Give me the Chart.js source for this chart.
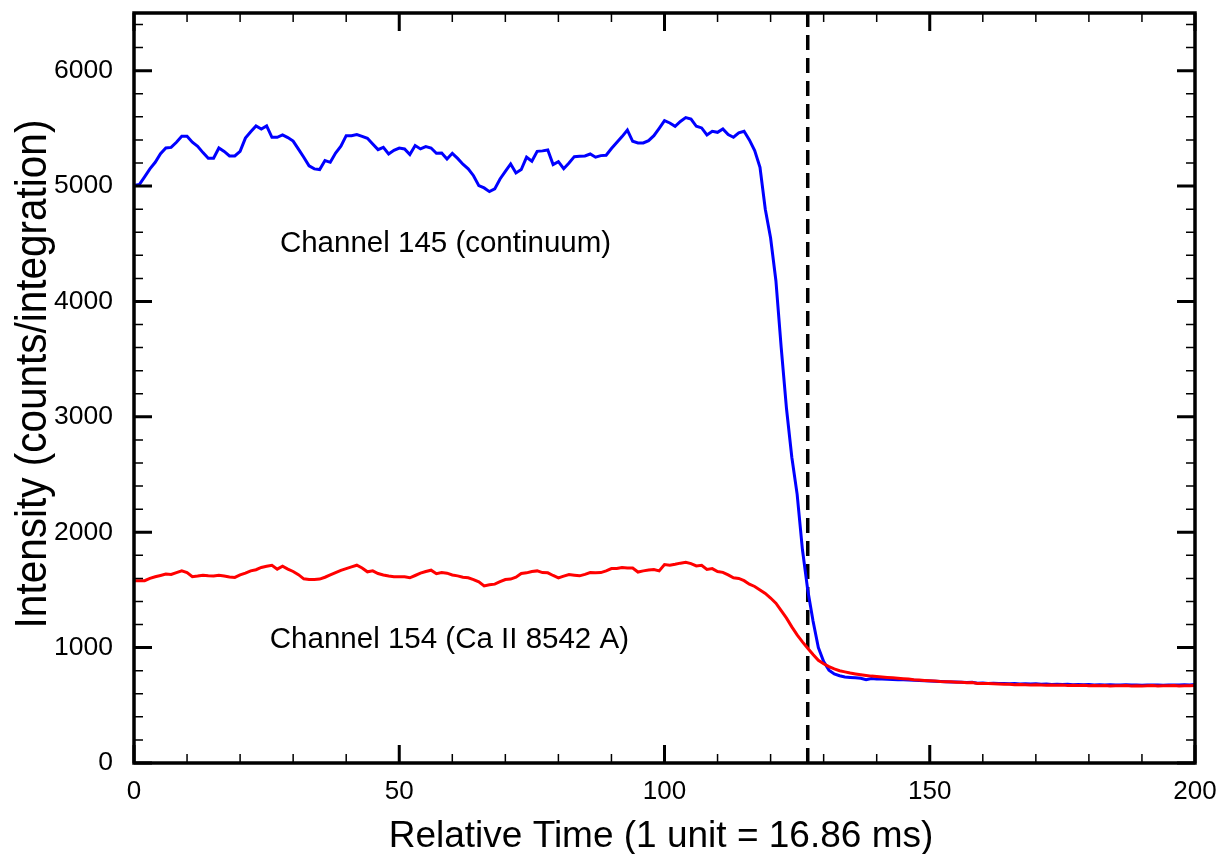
<!DOCTYPE html>
<html>
<head>
<meta charset="utf-8">
<script src="https://cdn.jsdelivr.net/npm/chart.js@4.4.1/dist/chart.umd.min.js"></script>
<style>
  html, body { margin: 0; padding: 0; background: #fff; }
  #wrap { width: 1220px; height: 854px; }
</style>
</head>
<body>
<div id="wrap"><canvas id="chart"></canvas></div>
<script>
// Channel 145 (continuum), one value per time unit, t = 0 .. 200
const continuum = [
  5004, 5013, 5080, 5149, 5206, 5280, 5330, 5335, 5380, 5431,
  5431, 5380, 5345, 5290, 5241, 5241, 5330, 5300, 5261, 5261,
  5301, 5416, 5470, 5521, 5495, 5521, 5423, 5423, 5443, 5420,
  5390, 5320, 5250, 5175, 5149, 5143, 5221, 5206, 5286, 5345,
  5437, 5437, 5446, 5431, 5414, 5364, 5316, 5336, 5278, 5310,
  5330, 5322, 5273, 5351, 5322, 5342, 5330, 5284, 5286, 5235,
  5284, 5240, 5190, 5150, 5090, 5004, 4984, 4952, 4976, 5062,
  5128, 5192, 5114, 5143, 5250, 5215, 5301, 5305, 5313, 5186,
  5212, 5151, 5200, 5255, 5258, 5261, 5278, 5250, 5264, 5267,
  5325, 5377, 5429, 5486, 5388, 5374, 5374, 5394, 5437, 5501,
  5567, 5547, 5518, 5560, 5593, 5581, 5518, 5504, 5443, 5475,
  5466, 5495, 5446, 5423, 5461, 5475, 5400, 5307, 5163, 4800,
  4550, 4180, 3600, 3070, 2650, 2330, 1850, 1500, 1230, 1000,
  880, 805, 772, 756, 746, 742, 738, 735, 722, 733,
  729, 727, 726, 724, 722, 721, 719, 717, 716, 713,
  710, 708, 707, 705, 702, 703, 700, 698, 699, 692,
  693, 690, 691, 688, 690, 686, 688, 685, 686, 684,
  686, 682, 684, 681, 683, 680, 682, 679, 681, 678,
  680, 677, 679, 676, 678, 677, 675, 678, 676, 677,
  674, 676, 675, 677, 674, 676, 675, 677, 678, 676,
  680
];

// Channel 154 (Ca II 8542 A)
const caLine = [
  1580, 1580, 1580, 1600, 1614, 1625, 1637, 1634, 1650, 1665,
  1650, 1614, 1620, 1628, 1622, 1620, 1626, 1620, 1612, 1608,
  1630, 1645, 1665, 1675, 1695, 1705, 1714, 1680, 1705, 1680,
  1660, 1632, 1596, 1591, 1591, 1594, 1610, 1630, 1650, 1670,
  1685, 1700, 1714, 1690, 1657, 1665, 1642, 1630, 1620, 1614,
  1614, 1614, 1605, 1625, 1645, 1660, 1671, 1640, 1650, 1645,
  1630, 1622, 1610, 1605, 1590, 1570, 1535, 1545, 1550, 1571,
  1590, 1594, 1610, 1642, 1648, 1660, 1665, 1650, 1648, 1625,
  1605, 1620, 1634, 1628, 1622, 1635, 1650, 1648, 1650, 1665,
  1685, 1685, 1694, 1691, 1690, 1655, 1665, 1672, 1677, 1665,
  1720, 1714, 1722, 1732, 1740, 1728, 1708, 1714, 1677, 1685,
  1660, 1652, 1630, 1605, 1600, 1580, 1550, 1530, 1500, 1470,
  1430, 1385, 1320, 1255, 1180, 1110, 1050, 995, 940, 890,
  860, 835, 815, 800, 790, 780, 772, 765, 759, 753,
  749, 745, 742, 739, 735, 731, 727, 722, 719, 715,
  712, 710, 706, 704, 705, 700, 699, 696, 697, 690,
  689, 688, 686, 684, 683, 682, 679, 680, 678, 676,
  679, 676, 674, 676, 673, 675, 672, 674, 671, 673,
  670, 672, 670, 671, 668, 670, 669, 671, 668, 670,
  668, 669, 671, 668, 670, 669, 671, 668, 670, 669,
  672
];

const markerTime = 127;          // dashed vertical line
const xTickValues = [0, 50, 100, 150, 200];
const yTickValues = [0, 1000, 2000, 3000, 4000, 5000, 6000];
const xMinorStep = 10;
const yMinorStep = 200;
const xMax = 200;
const yMax = 6500;

const annotations = [
  { text: 'Channel 145 (continuum)', x: 27.5, y: 4431 },
  { text: 'Channel 154 (Ca II 8542 A)', x: 25.6, y: 997 }
];

const FONT = '"Liberation Sans", Arial, Helvetica, sans-serif';

// frame, inward ticks on all four sides, titles and text labels
const framePlugin = {
  id: 'frame',
  afterDatasetsDraw(chart) {
    const { ctx, chartArea: a, scales: { x, y } } = chart;
    ctx.save();
    ctx.strokeStyle = '#000';
    ctx.lineCap = 'butt';

    // minor ticks
    ctx.lineWidth = 1.5;
    ctx.beginPath();
    for (let v = 0; v <= xMax; v += xMinorStep) {
      if (xTickValues.includes(v)) continue;
      const px = x.getPixelForValue(v);
      ctx.moveTo(px, a.bottom); ctx.lineTo(px, a.bottom - 9);
      ctx.moveTo(px, a.top); ctx.lineTo(px, a.top + 9);
    }
    for (let v = 0; v <= yMax; v += yMinorStep) {
      if (yTickValues.includes(v)) continue;
      const py = y.getPixelForValue(v);
      ctx.moveTo(a.left, py); ctx.lineTo(a.left + 9, py);
      ctx.moveTo(a.right, py); ctx.lineTo(a.right - 9, py);
    }
    ctx.stroke();

    // major ticks
    ctx.lineWidth = 3;
    ctx.beginPath();
    xTickValues.forEach(v => {
      const px = x.getPixelForValue(v);
      ctx.moveTo(px, a.bottom); ctx.lineTo(px, a.bottom - 18);
      ctx.moveTo(px, a.top); ctx.lineTo(px, a.top + 18);
    });
    yTickValues.forEach(v => {
      const py = y.getPixelForValue(v);
      ctx.moveTo(a.left, py); ctx.lineTo(a.left + 18, py);
      ctx.moveTo(a.right, py); ctx.lineTo(a.right - 18, py);
    });
    ctx.stroke();

    // frame
    ctx.lineWidth = 3.5;
    ctx.strokeRect(a.left, a.top, a.right - a.left, a.bottom - a.top);
    ctx.restore();
  },
  afterDraw(chart) {
    const { ctx, scales: { x, y } } = chart;
    ctx.save();
    ctx.fillStyle = '#000';

    // curve labels
    ctx.font = '29.5px ' + FONT;
    ctx.textAlign = 'left';
    ctx.textBaseline = 'alphabetic';
    annotations.forEach(n => {
      ctx.fillText(n.text, x.getPixelForValue(n.x), y.getPixelForValue(n.y));
    });

    // x axis title
    ctx.font = '37px ' + FONT;
    ctx.textAlign = 'center';
    ctx.fillText('Relative Time (1 unit = 16.86 ms)', 661, 847);

    // y axis title (slightly condensed, as in the original)
    ctx.translate(46, 374);
    ctx.rotate(-Math.PI / 2);
    ctx.scale(0.9, 1);
    ctx.font = '45px ' + FONT;
    ctx.fillText('Intensity (counts/integration)', 0, 0);
    ctx.restore();
  }
};

// keep the plot box where it is, whatever the label extents
function noPadding(s) {
  s.paddingTop = 0; s.paddingBottom = 0;
  s.paddingLeft = 0; s.paddingRight = 0;
}

const ctx = document.getElementById('chart').getContext('2d');
new Chart(ctx, {
  type: 'line',
  data: {
    datasets: [
      {
        label: 'Channel 154 (Ca II 8542 A)',
        data: caLine.map((v, i) => ({ x: i, y: v })),
        borderColor: '#ff0000',
        borderWidth: 3,
        pointRadius: 0,
        tension: 0,
        fill: false
      },
      {
        label: 'Channel 145 (continuum)',
        data: continuum.map((v, i) => ({ x: i, y: v })),
        borderColor: '#0000ff',
        borderWidth: 3,
        pointRadius: 0,
        tension: 0,
        fill: false
      },
      {
        label: 'marker',
        data: [{ x: markerTime, y: 0 }, { x: markerTime, y: yMax }],
        borderColor: '#000',
        borderWidth: 3.5,
        borderDash: [15, 8],
        pointRadius: 0,
        fill: false
      }
    ]
  },
  options: {
    responsive: true,
    maintainAspectRatio: false,
    animation: false,
    layout: { padding: { top: 13, right: 25, left: 0, bottom: 0 } },
    plugins: {
      legend: { display: false },
      tooltip: { enabled: false }
    },
    scales: {
      x: {
        type: 'linear',
        min: 0,
        max: xMax,
        afterBuildTicks: s => { s.ticks = xTickValues.map(v => ({ value: v })); },
        afterFit: s => { s.height = 91; noPadding(s); },
        grid: { display: false, drawTicks: false },
        border: { display: false },
        ticks: {
          color: '#000',
          font: { family: FONT, size: 26 },
          padding: 13,
          maxRotation: 0,
          autoSkip: false,
          callback: v => String(v)
        }
      },
      y: {
        type: 'linear',
        min: 0,
        max: yMax,
        afterBuildTicks: s => { s.ticks = yTickValues.map(v => ({ value: v })); },
        afterFit: s => { s.width = 134; noPadding(s); },
        grid: { display: false, drawTicks: false },
        border: { display: false },
        ticks: {
          color: '#000',
          font: { family: FONT, size: 26.5 },
          padding: 21,
          autoSkip: false,
          callback: v => String(v)
        }
      }
    }
  },
  plugins: [framePlugin]
});
</script>
</body>
</html>
